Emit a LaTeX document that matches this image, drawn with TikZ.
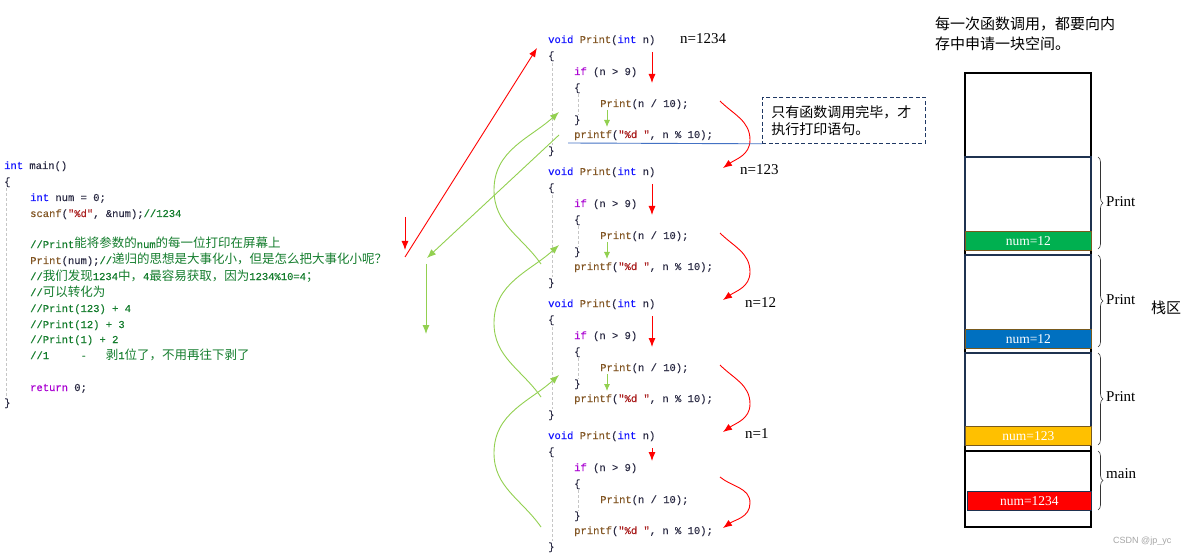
\documentclass[tikz,border=0pt]{standalone}
\usepackage{fontspec}
\setmainfont{Liberation Serif}
\newfontfamily\codefont[FakeBold=0.25]{Liberation Mono}
\newfontfamily\cjk{Noto Sans CJK SC}
\newfontfamily\wmfont{Liberation Sans}
\usetikzlibrary{arrows.meta,decorations.pathreplacing}
\definecolor{kwblue}{RGB}{20,20,255}
\definecolor{kwpurple}{RGB}{170,0,210}
\definecolor{fnbrown}{RGB}{130,85,35}
\definecolor{strred}{RGB}{170,30,30}
\definecolor{cmgreen}{RGB}{20,125,45}
\definecolor{codegray}{RGB}{45,45,70}
\definecolor{arrred}{RGB}{255,0,0}
\definecolor{arrgreen}{RGB}{146,208,80}
\definecolor{framenavy}{RGB}{31,50,80}
\definecolor{barbrown}{RGB}{120,90,30}
\definecolor{bargreen}{RGB}{0,176,80}
\definecolor{barblue}{RGB}{0,112,192}
\definecolor{baryellow}{RGB}{255,192,0}
\definecolor{barred}{RGB}{255,0,0}
\definecolor{linkblue}{RGB}{68,114,196}
\definecolor{boxnavy}{RGB}{31,56,100}
\newcommand\kw[1]{\textcolor{kwblue}{#1}}
\newcommand\kp[1]{\textcolor{kwpurple}{#1}}
\newcommand\fn[1]{\textcolor{fnbrown}{#1}}
\newcommand\str[1]{\textcolor{strred}{#1}}
\newcommand\cm[1]{\textcolor{cmgreen}{#1}}
\newcommand\zh[1]{{\cjk\fontsize{12.5}{12}\selectfont #1}}
\tikzset{
  code/.style={anchor=base west, inner sep=0pt, font=\codefont\fontsize{10.5}{12}\selectfont, text=codegray},
  nlbl/.style={anchor=base west, inner sep=0pt, font=\fontsize{15}{18}\selectfont},
  redarr/.style={draw=arrred, line width=0.9pt, -{Latex[length=9pt,width=7pt]}},
  greenarr/.style={draw=arrgreen, line width=0.9pt, -{Latex[length=9pt,width=7pt]}},
  smallgreen/.style={draw=arrgreen, line width=0.9pt, -{Latex[length=7pt,width=6pt]}},
  guide/.style={draw=gray!45, dash pattern=on 3pt off 2pt, line width=0.6pt},
  bar/.style={draw=barbrown, line width=0.8pt, minimum width=126pt, minimum height=19pt, anchor=north west, inner sep=0pt, text=white, font=\fontsize{13.5}{14}\selectfont},
  bracestyle/.style={draw=black!80, line width=0.6pt, decorate, decoration={brace, amplitude=5pt}},
  slbl/.style={anchor=west, inner sep=0pt, font=\fontsize{15}{18}\selectfont}
}
\begin{document}
\begin{tikzpicture}[x=1pt,y=-1pt]
\useasboundingbox (0,0) rectangle (1192,556);
\fill[white] (0,0) rectangle (1192,556);

% ---------------- left code: main ----------------
\draw[guide] (6,188) -- (6,398);
\node[code] (m1) at (4,169) {\kw{int} main()};
\node[code] (m2) at (4,185) {\{};
\node[code] (m3) at (30,201) {\kw{int} num = 0;};
\node[code] (m4) at (30,217) {\fn{scanf}(\str{"\%d"}, \&num);\cm{//1234}};
\node[code] (m5) at (30,248) {\cm{//Print\zh{能将参数的}num\zh{的每一位打印在屏幕上}}};
\node[code] (m6) at (30,264) {\fn{Print}(num);\cm{//\zh{递归的思想是大事化小，但是怎么把大事化小呢？}}};
\node[code] (m7) at (30,280) {\cm{//\zh{我们发现}1234\zh{中，}4\zh{最容易获取，因为}1234\%10=4\zh{；}}};
\node[code] (m8) at (30,296) {\cm{//\zh{可以转化为}}};
\node[code] (m9) at (30,312) {\cm{//Print(123) + 4}};
\node[code] (m10) at (30,328) {\cm{//Print(12) + 3}};
\node[code] (m11) at (30,343) {\cm{//Print(1) + 2}};
\node[code] (m12) at (30,359) {\cm{//1\ \ \ \ \ -\ \ \ \zh{剥}1\zh{位了，不用再往下剥了}}};
\node[code] (m13) at (30,391) {\kp{return} 0;};
\node[code] (m14) at (4,406) {\}};

% ---------------- middle code: Print blocks ----------------
\foreach \b/\Y in {1/39,2/171,3/303,4/435}{
  \draw[guide] (552,\Y+24) -- (552,\Y+106);
  \draw[guide] (578,\Y+55) -- (578,\Y+76);
  \node[code] (b\b-l0) at (548,\Y+4) {\kw{void} \fn{Print}(\kw{int} n)};
  \node[code] (b\b-l1) at (548,\Y+20) {\{};
  \node[code] (b\b-l2) at (574,\Y+36) {\kp{if} (n > 9)};
  \node[code] (b\b-l3) at (574,\Y+52) {\{};
  \node[code] (b\b-l4) at (600,\Y+68) {\fn{Print}(n / 10);};
  \node[code] (b\b-l5) at (574,\Y+84) {\}};
  \node[code] (b\b-l6) at (574,\Y+99) {\fn{printf}(\str{"\%d "}, n \% 10);};
  \node[code] (b\b-l7) at (548,\Y+115) {\}};
}

% n labels
\node[nlbl] (n1) at (680,44) {n=1234};
\node[nlbl] (n2) at (740,175) {n=123};
\node[nlbl] (n3) at (745,307) {n=12};
\node[nlbl] (n4) at (745,438) {n=1};

% red down arrows in blocks
\foreach \b/\Y/\L in {1/39/44,2/171/44,3/303/44,4/435/26}{
  \coordinate (rd\b s) at (652,\Y+13);
  \coordinate (rd\b e) at (652,\Y+\L);
  \draw[redarr] (rd\b s) -- (rd\b e);
}
% green small arrows in blocks 1-3
\foreach \b/\Y in {1/39,2/171,3/303}{
  \coordinate (gd\b s) at (607,\Y+71);
  \coordinate (gd\b e) at (607,\Y+88);
  \draw[smallgreen] (gd\b s) -- (gd\b e);
}
% red curved arrows (return flow)
\foreach \b/\Y in {1/39,2/171,3/303}{
  \coordinate (rc\b s) at (720,\Y+62);
  \coordinate (rc\b m) at (750,\Y+101);
  \coordinate (rc\b e) at (723,\Y+129);
  \draw[redarr] (rc\b s) to[out=-45,in=90] (rc\b m) to[out=-90,in=35] (rc\b e);
}
\coordinate (rc4s) at (720,477);
\coordinate (rc4m) at (750,503);
\coordinate (rc4e) at (723,528);
\draw[redarr] (rc4s) to[out=-40,in=90] (rc4m) to[out=-90,in=35] (rc4e);

% green curved arrows (return upward)
\foreach \b/\Y in {1/264,2/397,3/527}{
  \coordinate (gc\b s) at (541,\Y);
  \coordinate (gc\b m) at (494,\Y-74);
  \coordinate (gc\b e) at (559,\Y-152);
  \draw[greenarr] (gc\b s) to[out=125,in=-90] (gc\b m) to[out=90,in=222] (gc\b e);
}

% left arrows
\coordinate (ls1) at (405,217);
\coordinate (le1) at (405,250);
\draw[redarr] (ls1) -- (le1);
\coordinate (lr s) at (405,257);
\coordinate (lr e) at (537,48);
\draw[redarr] (lr s) -- (lr e);
\coordinate (lg s) at (559,135);
\coordinate (lg e) at (427,258);
\draw[greenarr] (lg s) -- (lg e);
\coordinate (lg2 s) at (426,264);
\coordinate (lg2 e) at (426,334);
\draw[greenarr] (lg2 s) -- (lg2 e);

% note box
\node[draw=boxnavy, dash pattern=on 4pt off 2.5pt, line width=0.8pt, anchor=north west,
      minimum width=163pt, minimum height=46pt, inner xsep=9pt, align=left,
      text width=145pt, font=\cjk\fontsize{14}{17}\selectfont] (note) at (762,97)
      {只有函数调用完毕，才\\执行打印语句。};
\coordinate (bl) at (568,143);
\draw[linkblue, line width=0.9pt] (bl) -- (note.south west);

% top right text
\node[anchor=west, inner sep=0pt, align=left, font=\cjk\fontsize{15}{20}\selectfont] (title) at (935,34)
  {每一次函数调用，都要向内\\存中申请一块空间。};

% stack
\draw[line width=2pt] (965,73) rectangle (1091,527);
\draw[framenavy, line width=2pt] (965,157) rectangle (1091,249);
\draw[framenavy, line width=2pt] (965,255) rectangle (1091,348);
\draw[framenavy, line width=2pt] (965,353) rectangle (1091,445);
\draw[line width=2pt] (965,451) -- (1091,451);
\node[bar, fill=bargreen] (bar1) at (965,231) {num=12};
\node[bar, fill=barblue] (bar2) at (965,329) {num=12};
\node[bar, fill=baryellow] (bar3) at (965,426) {num=123};
\node[bar, fill=barred, draw=framenavy, minimum width=124pt] (bar4) at (967,491) {num=1234};

% braces
\draw[bracestyle] (1098,157) -- (1098,249);
\draw[bracestyle] (1098,255) -- (1098,347);
\draw[bracestyle] (1098,353) -- (1098,445);
\draw[bracestyle] (1098,451) -- (1098,510);
\node[slbl] (p1) at (1106,202) {Print};
\node[slbl] (p2) at (1106,300) {Print};
\node[slbl] (p3) at (1106,397) {Print};
\node[slbl] (p4) at (1106,474) {main};
\node[anchor=west, inner sep=0pt, font=\cjk\fontsize{15}{18}\selectfont] (stk) at (1151,308) {栈区};

% watermark
\node[anchor=west, inner sep=0pt, text=gray!70, font=\wmfont\fontsize{9}{10}\selectfont] (wm) at (1113,541) {CSDN @jp\_yc};
\end{tikzpicture}
\end{document}
